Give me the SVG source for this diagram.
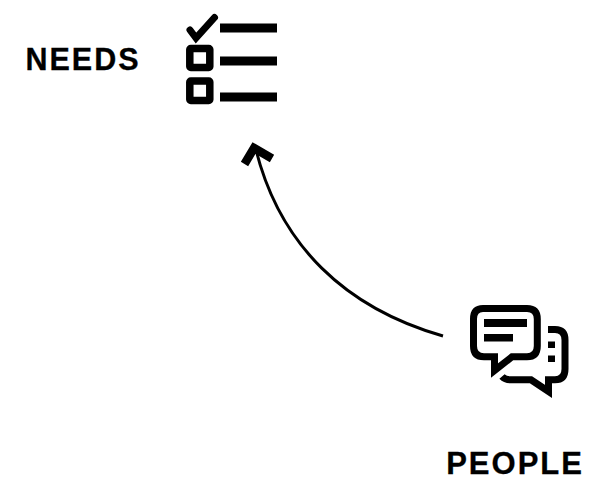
<svg xmlns="http://www.w3.org/2000/svg" width="599" height="492" viewBox="0 0 599 492">
<style>
text{font-family:"Liberation Sans",Arial,sans-serif;font-weight:700;fill:#000;stroke:#000;stroke-width:.3px}
.s{fill:none;stroke:#000}
.b{fill:#000}
</style>
<rect width="599" height="492" fill="#fff"/>
<g id="connectors">
<path class="s" stroke-width="3" d="M443 336C345 308 280 245 256 150"/>
<path class="s" stroke-width="8.500" d="M244.500 164L254 148L272 158.500"/>
</g>
<g id="needs">
<text x="25.500" y="70" font-size="30.500" letter-spacing="2">NEEDS</text>
<path class="s" stroke-width="7" stroke-linecap="round" d="M190 30L196 38L214.500 17.500"/>
<rect class="s" stroke-width="7.500" x="189.800" y="48.500" width="20" height="19" rx="1"/>
<rect class="s" stroke-width="7.500" x="189.800" y="81" width="20" height="19.500" rx="1"/>
<rect class="b" x="220" y="23.500" width="57" height="9"/>
<rect class="b" x="220" y="56.500" width="57" height="9"/>
<rect class="b" x="220" y="92.500" width="57" height="9"/>
</g>
<g id="people">
<text x="446.200" y="473.500" font-size="31" letter-spacing="2">PEOPLE</text>
<path class="s" stroke-width="7" d="M483 308.500H527Q537.300 308.500 537.300 319V346Q537.300 356.800 527 356.800H512L494.500 370.500V356.800H484Q473.500 356.800 473.500 346V319Q473.500 308.500 483 308.500Z"/>
<path class="s" stroke-width="7" d="M548 329.500H555Q565 329.500 565 340V369Q565 379.800 555 379.800H548.500V391.500L531 379.800H510Q505 379.800 502 376.500"/>
<rect class="b" x="484" y="319" width="43" height="8"/>
<rect class="b" x="484" y="334" width="29" height="7.500"/>
<rect class="b" x="548" y="341.500" width="7" height="6.500"/>
<rect class="b" x="548" y="355.500" width="7" height="6.500"/>
</g>
</svg>
